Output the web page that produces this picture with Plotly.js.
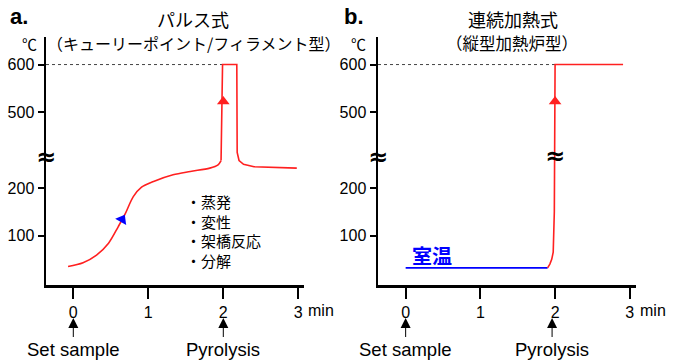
<!DOCTYPE html>
<html>
<head>
<meta charset="utf-8">
<script src="https://cdn.plot.ly/plotly-3.0.1.min.js"></script>
<style>html,body{margin:0;padding:0;background:#fff;}#chart{width:677px;height:361px;}</style>
</head>
<body>
<div id="chart"></div>
<script>
// ---- data (real temperatures, °C; time in min) ----
const pulseTime = [-0.07, 0.13, 0.31, 0.47, 0.6, 0.69, 0.8, 0.91, 1.07, 1.33, 1.56, 1.82, 1.93, 1.97, 1.99, 2.18, 2.185, 2.21, 2.27, 2.41, 2.7, 2.98];
const pulseTemp = [35, 43, 59, 84, 119, 145, 182, 202, 214, 228, 235, 242, 249, 258, 600, 600, 275, 258, 250, 245, 243, 242];
const pulseSmoothEnd = 13; // index where the smooth pre-heating part ends

const roomTime = [0, 1.9];
const roomTemp = [32, 32];
const furnaceTime = [1.9, 1.93, 1.955, 1.975, 1.99, 2.0, 2.91];
const furnaceTemp = [32, 40, 50, 65, 150, 600, 600];

const maxTemp = 600;
const yTickVals = [100, 200, 500, 600];
const yTickText = ['100', '200', '500', '600'];
const xTickVals = [0, 1, 2, 3];
const xTickText = ['0', '1', '2', '3'];
const bulletItems = ['・蒸発', '・変性', '・架橋反応', '・分解'];

// broken axis: values above the break are shifted down
const BREAK_LOW = 280, SHIFT = 140;
function disp(v) { return v <= BREAK_LOW ? v : Math.max(BREAK_LOW, v - SHIFT); }

const RED = '#ff2020', BLUE = '#0000ff';
const FONT = "Arial, 'Liberation Sans', 'Noto Sans CJK JP', sans-serif";
const JFONT = "'Noto Sans CJK JP', Arial, sans-serif";
const W = 677, H = 361;
const px = p => p / W, py = p => 1 - p / H;

const traces = [
  // left
  {x: [-0.364, 2.0], y: [maxTemp, maxTemp].map(disp), xaxis: 'x', yaxis: 'y', mode: 'lines',
   line: {color: '#444', width: 1, dash: 'dot'}, hoverinfo: 'skip'},
  {x: pulseTime.slice(0, pulseSmoothEnd + 1), y: pulseTemp.slice(0, pulseSmoothEnd + 1).map(disp),
   xaxis: 'x', yaxis: 'y', mode: 'lines', line: {color: RED, width: 1.6, shape: 'spline', smoothing: 0.9}},
  {x: pulseTime.slice(pulseSmoothEnd), y: pulseTemp.slice(pulseSmoothEnd).map(disp),
   xaxis: 'x', yaxis: 'y', mode: 'lines', line: {color: RED, width: 1.6}},
  {x: [2.0], y: [disp(522)], xaxis: 'x', yaxis: 'y', mode: 'markers',
   marker: {symbol: 'triangle-up', size: 11, color: RED}},
  {x: [0.65], y: [disp(134)], xaxis: 'x', yaxis: 'y', mode: 'markers',
   marker: {symbol: 'triangle-up', size: 11, color: BLUE, angle: 30}},
  // right
  {x: [-0.37, 2.0], y: [maxTemp, maxTemp].map(disp), xaxis: 'x2', yaxis: 'y2', mode: 'lines',
   line: {color: '#444', width: 1, dash: 'dot'}, hoverinfo: 'skip'},
  {x: roomTime, y: roomTemp.map(disp), xaxis: 'x2', yaxis: 'y2', mode: 'lines',
   line: {color: BLUE, width: 1.6}},
  {x: furnaceTime, y: furnaceTemp.map(disp), xaxis: 'x2', yaxis: 'y2', mode: 'lines',
   line: {color: RED, width: 1.6}},
  {x: [2.0], y: [disp(522)], xaxis: 'x2', yaxis: 'y2', mode: 'markers',
   marker: {symbol: 'triangle-up', size: 11, color: RED}}
];

function xa(domain, range) {
  return {domain: domain, range: range, tickvals: xTickVals, ticktext: xTickText,
    ticks: 'outside', ticklen: 11, tickwidth: 2, tickcolor: '#000',
    showline: true, linewidth: 2.5, linecolor: '#000', showgrid: false, zeroline: false,
    tickfont: {family: FONT, size: 16, color: '#000'}, fixedrange: true};
}
function ya(anchor) {
  return {domain: [py(285), py(37)], range: [-4, 518], anchor: anchor,
    tickvals: yTickVals.map(disp), ticktext: yTickText,
    ticks: 'outside', ticklen: 6, tickwidth: 2, tickcolor: '#000',
    showline: true, linewidth: 2.5, linecolor: '#000', showgrid: false, zeroline: false,
    tickfont: {family: FONT, size: 16, color: '#000'}, fixedrange: true};
}

function txt(text, x, y, size, opts, family) {
  return Object.assign({text: text, x: px(x), y: py(y), xref: 'paper', yref: 'paper',
    showarrow: false, xanchor: 'center', yanchor: 'middle',
    font: {family: family || FONT, size: size, color: '#000'}}, opts || {});
}
function brk(xref, x, y) {
  return {text: '≈', x: x, y: py(y), xref: xref, yref: 'paper', showarrow: false,
    xanchor: 'center', yanchor: 'middle',
    font: {family: "'DejaVu Sans', sans-serif", size: 24, color: '#000', weight: 'bold'}};
}
function marker(xref, x, label) {
  return {text: label, x: x, y: py(318), xref: xref, yref: 'paper', showarrow: true,
    ax: 0, ay: 31, arrowhead: 2, arrowsize: 2, arrowwidth: 1, arrowcolor: '#000', standoff: 0,
    font: {family: FONT, size: 18.5, color: '#000'}};
}

const annotations = [
  txt('<b>a.</b>', 19, 16, 22),
  txt('<b>b.</b>', 354, 16, 22),
  txt('パルス式', 193, 19, 18, null, JFONT),
  txt('（キューリーポイント/フィラメント型）', 193, 43, 16, null, JFONT),
  txt('連続加熱式', 513, 19, 18, null, JFONT),
  txt('（縦型加熱炉型）', 512, 43, 16.5, null, JFONT),
  txt('℃', 29, 44, 15, null, JFONT),
  txt('℃', 358, 44, 15, null, JFONT),
  brk('paper', px(46), 157),
  brk('paper', px(378), 157),
  brk('x2', 2.0, 156),
  {text: 'min', x: 3, xref: 'x', y: py(310), yref: 'paper', xanchor: 'left', yanchor: 'middle',
   xshift: 8, showarrow: false, font: {family: FONT, size: 16, color: '#000'}},
  {text: 'min', x: 3, xref: 'x2', y: py(310), yref: 'paper', xanchor: 'left', yanchor: 'middle',
   xshift: 8, showarrow: false, font: {family: FONT, size: 16, color: '#000'}},
  marker('x', 0, 'Set sample'),
  marker('x', 2, 'Pyrolysis'),
  marker('x2', 0, 'Set sample'),
  marker('x2', 1.96, 'Pyrolysis'),
  txt('<b>室温</b>', 432, 255, 20, {font: {family: JFONT, size: 20, color: BLUE}}),
  txt(bulletItems.join('<br>'), 184, 231, 15, {xanchor: 'left', align: 'left'}, JFONT)
];

const layout = {
  width: W, height: H, margin: {l: 0, r: 0, t: 0, b: 0},
  paper_bgcolor: '#fff', plot_bgcolor: 'rgba(0,0,0,0)', showlegend: false,
  xaxis: Object.assign(xa([px(46), px(304)], [-0.364, 3.076]), {anchor: 'y'}),
  yaxis: ya('x'),
  xaxis2: Object.assign(xa([px(378), px(636)], [-0.37, 3.083]), {anchor: 'y2'}),
  yaxis2: ya('x2'),
  annotations: annotations
};

Plotly.newPlot('chart', traces, layout, {staticPlot: true, displayModeBar: false});
</script>
</body>
</html>
